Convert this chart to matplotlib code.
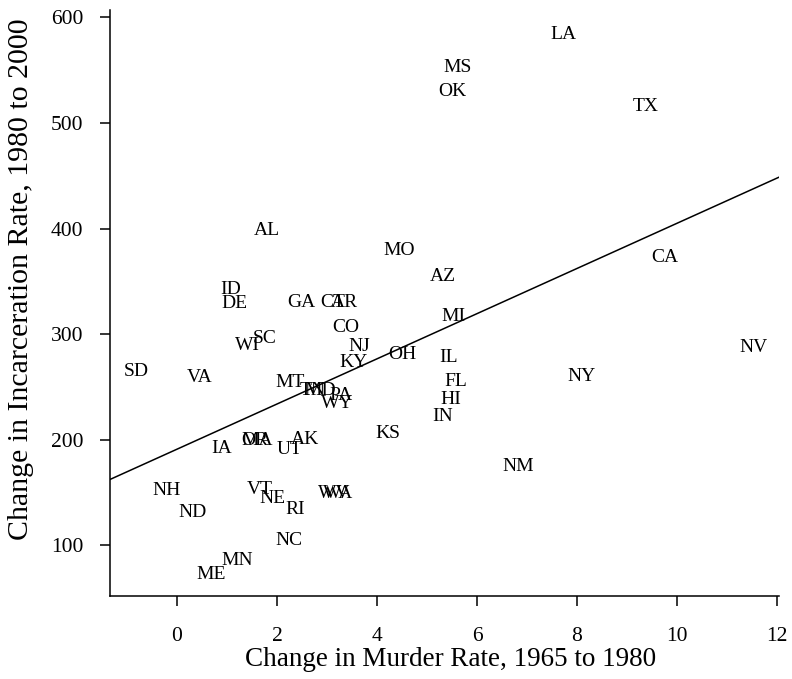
import numpy as np
import matplotlib
matplotlib.use("Agg")
import matplotlib.pyplot as plt

plt.rcParams["font.family"] = ["Liberation Serif", "DejaVu Serif"]

states = ["LA", "MS", "OK", "TX", "AL", "MO", "CA", "AZ", "ID", "DE",
          "GA", "CT", "AR", "MI", "CO", "SC", "WI", "NJ", "KY", "OH",
          "IL", "SD", "VA", "MT", "TN", "MD", "PA", "WY", "FL", "NY",
          "NV", "HI", "KS", "IN", "IA", "OR", "MA", "UT", "AK", "NM",
          "NH", "ND", "VT", "NE", "RI", "WV", "WA", "NC", "MN", "ME"]
murder_change = [7.72, 5.62, 5.50, 9.38, 1.80, 4.44, 9.76, 5.32, 1.08, 1.14,
                 2.48, 3.12, 3.34, 5.52, 3.38, 1.76, 1.40, 3.64, 3.53, 4.50,
                 5.44, -0.82, 0.46, 2.26, 2.72, 2.86, 3.28, 3.20, 5.58, 8.10,
                 11.54, 5.48, 4.22, 5.32, 0.90, 1.56, 1.60, 2.26, 2.56, 6.82,
                 -0.20, 0.32, 1.66, 1.90, 2.36, 3.14, 3.22, 2.24, 1.20, 0.68]
incarceration_change = [584, 553, 530, 516, 398, 379, 373, 355, 342, 329,
                        330, 330, 330, 317, 306, 296, 289, 288, 273, 281,
                        278, 265, 259, 254, 247, 247, 242, 234, 255, 260,
                        287, 238, 206, 222, 192, 199, 199, 191, 200, 175,
                        152, 131, 153, 144, 134, 149, 149, 105, 86, 72]

x = np.array(murder_change)
y = np.array(incarceration_change)

fig = plt.figure(figsize=(7.92, 6.79), dpi=100)
ax = fig.add_axes([110 / 792, 83 / 679, 669 / 792, 586 / 679])

for name, xi, yi in zip(states, x, y):
    ax.text(xi, yi, name, ha="center", va="center", fontsize=14, color="black")

# least-squares fit line across the full x range
slope, intercept = np.polyfit(x, y, 1)
xlim = (-1.34, 12.04)
xs = np.array(xlim)
ax.plot(xs, intercept + slope * xs, color="black", linewidth=1.1)

ax.set_xlim(*xlim)
ax.set_ylim(52, 607)
ax.set_xticks([0, 2, 4, 6, 8, 10, 12])
ax.set_yticks([100, 200, 300, 400, 500, 600])

for side in ("top", "right"):
    ax.spines[side].set_visible(False)
for side in ("left", "bottom"):
    ax.spines[side].set_linewidth(1.1)
ax.tick_params(direction="out", length=7, width=1.1, labelsize=15.5)
ax.tick_params(axis="x", pad=15)
ax.tick_params(axis="y", pad=12)

ax.set_xlabel("Change in Murder Rate, 1965 to 1980", fontsize=19.5, va="top")
ax.xaxis.set_label_coords(0.509, -0.087)
ax.set_ylabel("Change in Incarceration Rate, 1980 to 2000", fontsize=21.5)
ax.yaxis.set_label_coords(-0.114, 0.541)

fig.savefig("out.png", dpi=100)
